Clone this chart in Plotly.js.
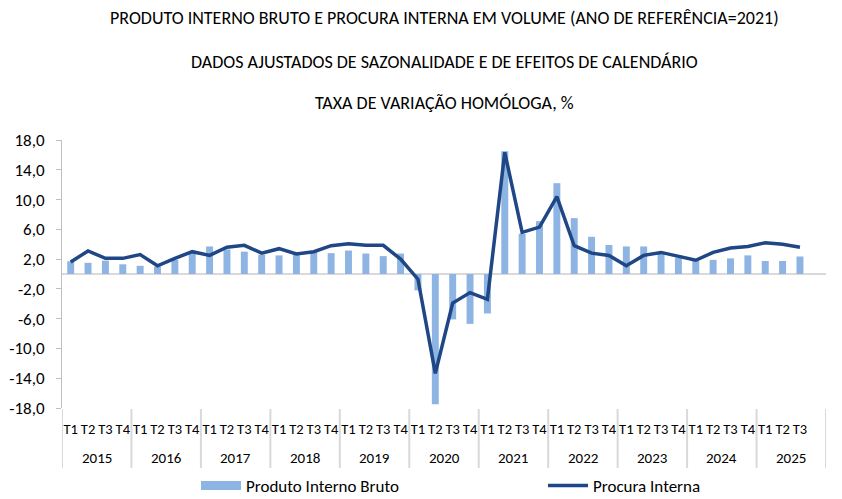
<!DOCTYPE html>
<html>
<head>
<meta charset="utf-8">
<script src="https://cdn.plot.ly/plotly-3.0.1.min.js"></script>
<style>
  html, body { margin: 0; padding: 0; background: #ffffff; }
  #chart { width: 842px; height: 499px; }
</style>
</head>
<body>
<div id="chart"></div>
<script>
// ---- Data ----
const years = ['2015','2016','2017','2018','2019','2020','2021','2022','2023','2024','2025'];
const quarters = ['T1','T2','T3','T4'];

// Produto Interno Bruto – taxa de variação homóloga (%)
const pib = [
  1.7, 1.5, 1.8, 1.3,
  1.1, 1.0, 1.9, 2.8,
  3.7, 3.3, 3.0, 2.6,
  2.5, 2.9, 3.0, 2.8,
  3.15, 2.75, 2.4, 2.75,
  -2.2, -17.5, -6.1, -6.7,
  -5.3, 16.5, 5.4, 7.1,
  12.2, 7.5, 5.0, 3.9,
  3.7, 3.7, 2.8, 2.2,
  1.85, 1.9, 2.1, 2.5,
  1.75, 1.75, 2.35, null
];

// Procura Interna – taxa de variação homóloga (%)
const procura = [
  1.6, 3.1, 2.1, 2.1,
  2.6, 1.1, 2.1, 3.0,
  2.5, 3.6, 3.85, 2.8,
  3.4, 2.7, 3.0, 3.8,
  4.05, 3.85, 3.85, 2.0,
  -0.7, -13.35, -3.9, -2.5,
  -3.4, 16.35, 5.6, 6.3,
  10.4, 3.8, 2.8, 2.5,
  1.1, 2.5, 2.9, 2.4,
  1.85, 2.9, 3.5, 3.7,
  4.2, 4.0, 3.6, null
];

const yTickVals = [18, 14, 10, 6, 2, -2, -6, -10, -14, -18];
const yTickText = ['18,0', '14,0', '10,0', '6,0', '2,0', '-2,0', '-6,0', '-10,0', '-14,0', '-18,0'];

const titleLines = [
  'PRODUTO INTERNO BRUTO E PROCURA INTERNA EM VOLUME (ANO DE REFERÊNCIA=2021)',
  'DADOS AJUSTADOS DE SAZONALIDADE E DE EFEITOS DE CALENDÁRIO',
  'TAXA DE VARIAÇÃO HOMÓLOGA, %'
];

// ---- Categories: one slot per quarter (2025 ends with an empty T4 slot) ----
const catIds = [];      // unique category ids, e.g. "2015 T1"
const catLabels = [];   // displayed quarter label
years.forEach(function (yr) {
  quarters.forEach(function (q) {
    catIds.push(yr + ' ' + q);
    catLabels.push(yr === '2025' && q === 'T4' ? ' ' : q);
  });
});
const nSlots = catIds.length;
const nQ = quarters.length;
// year label positions (middle of each 4-slot group) and group boundaries, in category units
const yearCenters = years.map(function (yr, i) { return i * nQ + (nQ - 1) / 2; });
const groupEdges = years.map(function (yr, i) { return i * nQ - 0.5; }).concat([nSlots - 0.5]);

const FONT = 'Carlito, Liberation Sans, Arial, sans-serif';
const BAR_COLOR = '#8DB4E2';
const LINE_COLOR = '#1F4685';
const DIVIDER_COLOR = '#d9d9d9';
const W = 842, H = 499;

const traces = [
  {
    type: 'bar',
    name: 'Produto Interno Bruto',
    x: catIds,
    y: pib,
    marker: { color: BAR_COLOR },
    legendgroup: 'pib',
    showlegend: false,
    hoverinfo: 'y'
  },
  {
    // legend swatch for the bars (wide rectangle, as in the original)
    type: 'scatter',
    mode: 'lines',
    name: 'Produto Interno Bruto',
    x: [null],
    y: [null],
    line: { color: BAR_COLOR, width: 9 },
    legendgroup: 'pib',
    legend: 'legend',
    showlegend: true,
    hoverinfo: 'skip'
  },
  {
    type: 'scatter',
    mode: 'lines',
    name: 'Procura Interna',
    x: catIds,
    y: procura,
    line: { color: LINE_COLOR, width: 3.5 },
    legend: 'legend2',
    hoverinfo: 'y'
  }
];

const plotTop = 140, plotBottom = 408, plotH = plotBottom - plotTop;
function py(pix) { return (plotBottom - pix) / plotH; }

const annotations = titleLines.map(function (t, i) {
  const ys = [18, 62, 103];
  return {
    text: t,
    xref: 'paper', yref: 'paper',
    x: 0.5, y: py(ys[i]),
    xanchor: 'center', yanchor: 'middle',
    showarrow: false,
    font: { family: FONT, size: 18, color: '#000000' }
  };
}).concat(years.map(function (yr, i) {
  // second-level (year) labels of the category axis
  return {
    text: yr,
    xref: 'x', yref: 'paper',
    x: yearCenters[i], y: py(458),
    xanchor: 'center', yanchor: 'middle',
    showarrow: false,
    font: { family: FONT, size: 15, color: '#000000' }
  };
}));

// vertical dividers between year groups (below the plot area)
const shapes = groupEdges.map(function (e) {
  return {
    type: 'line',
    xref: 'x', yref: 'paper',
    x0: e, x1: e,
    y0: py(409), y1: py(468),
    line: { color: DIVIDER_COLOR, width: 2 },
    layer: 'above'
  };
});

function legendAt(px) {
  return {
    orientation: 'h',
    xref: 'container', yref: 'container',
    x: px / W, xanchor: 'left',
    y: (H - 486) / H, yanchor: 'middle',
    font: { family: FONT, size: 17, color: '#000000' },
    itemwidth: 40,
    bgcolor: 'rgba(0,0,0,0)'
  };
}

const layout = {
  width: W,
  height: H,
  margin: { l: 62, r: 16, t: plotTop, b: H - plotBottom },
  paper_bgcolor: '#ffffff',
  plot_bgcolor: '#ffffff',
  font: { family: FONT, size: 16, color: '#000000' },
  bargap: 0.6,
  showlegend: true,
  legend: legendAt(196),
  legend2: legendAt(543),
  xaxis: {
    type: 'category',
    categoryorder: 'array',
    categoryarray: catIds,
    tickmode: 'array',
    tickvals: catIds,
    ticktext: catLabels,
    range: [-0.5, nSlots - 0.5],
    showgrid: false,
    zeroline: false,
    showline: false,
    ticks: '',
    tickangle: 0,
    ticklabelstandoff: 10,
    tickfont: { family: FONT, size: 14.5, color: '#000000' },
    fixedrange: true
  },
  yaxis: {
    range: [-18, 18],
    tickmode: 'array',
    tickvals: yTickVals,
    ticktext: yTickText,
    showgrid: false,
    zeroline: true,
    zerolinecolor: '#d9d9d9',
    zerolinewidth: 2,
    showline: true,
    linecolor: '#bfbfbf',
    linewidth: 1,
    ticks: 'outside',
    ticklen: 5,
    tickcolor: '#bfbfbf',
    ticklabelstandoff: 8,
    tickfont: { family: FONT, size: 17, color: '#000000' },
    fixedrange: true
  },
  annotations: annotations,
  shapes: shapes
};

Plotly.newPlot('chart', traces, layout, { displayModeBar: false, staticPlot: true });
</script>
</body>
</html>
